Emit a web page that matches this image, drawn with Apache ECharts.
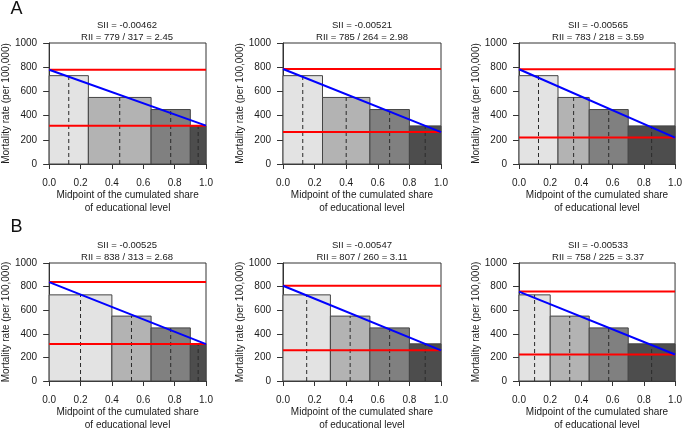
<!DOCTYPE html>
<html><head><meta charset="utf-8">
<script src="https://cdn.jsdelivr.net/npm/echarts@6/dist/echarts.min.js"></script>
<style>html,body{margin:0;padding:0;background:#fff}#c{width:685px;height:432px}</style>
</head><body><div id="c"></div>
<script>
// ---- data ----
const panelLetters = ['A', 'B'];
const barValues = [730, 550, 450, 315];
const barColors = ['#e3e3e3', '#b3b3b3', '#808080', '#4d4d4d'];
// cumulated share boundaries of educational levels, per panel (A1,A2,A3,B1,B2,B3)
const barBreaks = [
  [0, 0.25, 0.65, 0.90, 1.0],
  [0, 0.25, 0.55, 0.80, 1.0],
  [0, 0.25, 0.45, 0.70, 1.0],
  [0, 0.40, 0.65, 0.90, 1.0],
  [0, 0.30, 0.55, 0.80, 1.0],
  [0, 0.20, 0.45, 0.70, 1.0]
];
const siiValues = ['-0.00462', '-0.00521', '-0.00565', '-0.00525', '-0.00547', '-0.00533'];
const riiHigh = [779, 785, 783, 838, 807, 758];
const riiLow = [317, 264, 218, 313, 260, 225];
const riiRatio = ['2.45', '2.98', '3.59', '2.68', '3.11', '3.37'];
const xTickInterval = 0.2;
const yTickInterval = 200;
const yMax = 1000;
const yAxisTitle = 'Mortality rate (per 100,000)';
const xAxisTitle = 'Midpoint of the cumulated share\nof educational level';

// ---- layout ----
const colLeft = [48, 283, 519];
const rowTop = [43, 263];
const gw = 158, gh = 121;
const FONT = 'Liberation Sans, Arial, sans-serif';
const txt = '#1a1a1a';

const grids = [], xAxes = [], yAxes = [], series = [], graphics = [];
for (let i = 0; i < 6; i++) {
  const r = Math.floor(i / 3), c = i % 3;
  grids.push({left: colLeft[c], top: rowTop[r], width: gw, height: gh,
    show: true, borderColor: '#333', borderWidth: 1, backgroundColor: 'transparent'});
  xAxes.push({type: 'value', gridIndex: i, min: 0, max: 1, interval: xTickInterval,
    axisLine: {show: true, lineStyle: {color: '#333', width: 1}},
    axisTick: {show: true, length: 5, lineStyle: {color: '#333'}},
    splitLine: {show: false},
    axisLabel: {margin: 14, fontSize: 10, color: txt, fontFamily: FONT, formatter: v => v.toFixed(1)},
    name: xAxisTitle, nameLocation: 'middle', nameGap: 25,
    nameTextStyle: {fontSize: 10, color: txt, fontFamily: FONT, lineHeight: 12.5}});
  yAxes.push({type: 'value', gridIndex: i, min: 0, max: yMax, interval: yTickInterval,
    axisLine: {show: true, lineStyle: {color: '#333', width: 1}},
    axisTick: {show: true, length: 6, lineStyle: {color: '#333'}},
    splitLine: {show: false},
    axisLabel: {margin: 12, fontSize: 10, color: txt, fontFamily: FONT, formatter: v => String(v)},
    name: yAxisTitle, nameLocation: 'middle', nameGap: 31, nameRotate: 90,
    nameTextStyle: {fontSize: 10, color: txt, fontFamily: FONT}});

  const br = barBreaks[i];
  const bars = barValues.map((v, k) => [br[k], br[k + 1], v, k]);
  series.push({type: 'custom', xAxisIndex: i, yAxisIndex: i, z: 2,
    encode: {x: [0, 1], y: 2},
    data: bars,
    renderItem: (params, api) => {
      const p0 = api.coord([api.value(0), 0]);
      const p1 = api.coord([api.value(1), api.value(2)]);
      return {type: 'rect',
        shape: {x: p0[0], y: p1[1], width: p1[0] - p0[0], height: p0[1] - p1[1]},
        style: {fill: barColors[api.value(3)], stroke: '#444', lineWidth: 1}};
    }});
  const mids = barValues.map((v, k) => [(br[k] + br[k + 1]) / 2, v]);
  series.push({type: 'custom', xAxisIndex: i, yAxisIndex: i, z: 3,
    encode: {x: 0, y: 1},
    data: mids,
    renderItem: (params, api) => {
      const a = api.coord([api.value(0), 0]);
      const b = api.coord([api.value(0), api.value(1)]);
      return {type: 'line', shape: {x1: a[0], y1: a[1], x2: b[0], y2: b[1]},
        style: {stroke: '#2a2a2a', lineWidth: 1, lineDash: [4, 3]}};
    }});
  [riiHigh[i], riiLow[i]].forEach(h => {
    series.push({type: 'line', xAxisIndex: i, yAxisIndex: i, z: 4, symbol: 'none',
      data: [[0, h], [1, h]], lineStyle: {color: '#ff0000', width: 2}, silent: true, animation: false});
  });
  series.push({type: 'line', xAxisIndex: i, yAxisIndex: i, z: 5, symbol: 'none',
    data: [[0, riiHigh[i]], [1, riiLow[i]]], lineStyle: {color: '#0000ff', width: 2}, silent: true, animation: false});

  const cx = colLeft[c] + gw / 2;
  graphics.push({type: 'text', x: cx, y: rowTop[r] - 18, style: {text: 'SII = ' + siiValues[i],
    textAlign: 'center', textVerticalAlign: 'middle', font: '9.5px ' + FONT, fill: txt}});
  graphics.push({type: 'text', x: cx, y: rowTop[r] - 6, style: {text: 'RII = ' + riiHigh[i] + ' / ' + riiLow[i] + ' = ' + riiRatio[i],
    textAlign: 'center', textVerticalAlign: 'middle', font: '9.5px ' + FONT, fill: txt}});
}
graphics.push({type: 'text', x: 16.5, y: 9.5, style: {text: panelLetters[0], textAlign: 'center', textVerticalAlign: 'middle', font: '18px ' + FONT, fill: '#111'}});
graphics.push({type: 'text', x: 16.5, y: 227, style: {text: panelLetters[1], textAlign: 'center', textVerticalAlign: 'middle', font: '18px ' + FONT, fill: '#111'}});

const chart = echarts.init(document.getElementById('c'), null, {renderer: 'canvas'});
chart.setOption({animation: false, backgroundColor: '#fff', grid: grids, xAxis: xAxes, yAxis: yAxes, series: series, graphic: graphics});
</script></body></html>
